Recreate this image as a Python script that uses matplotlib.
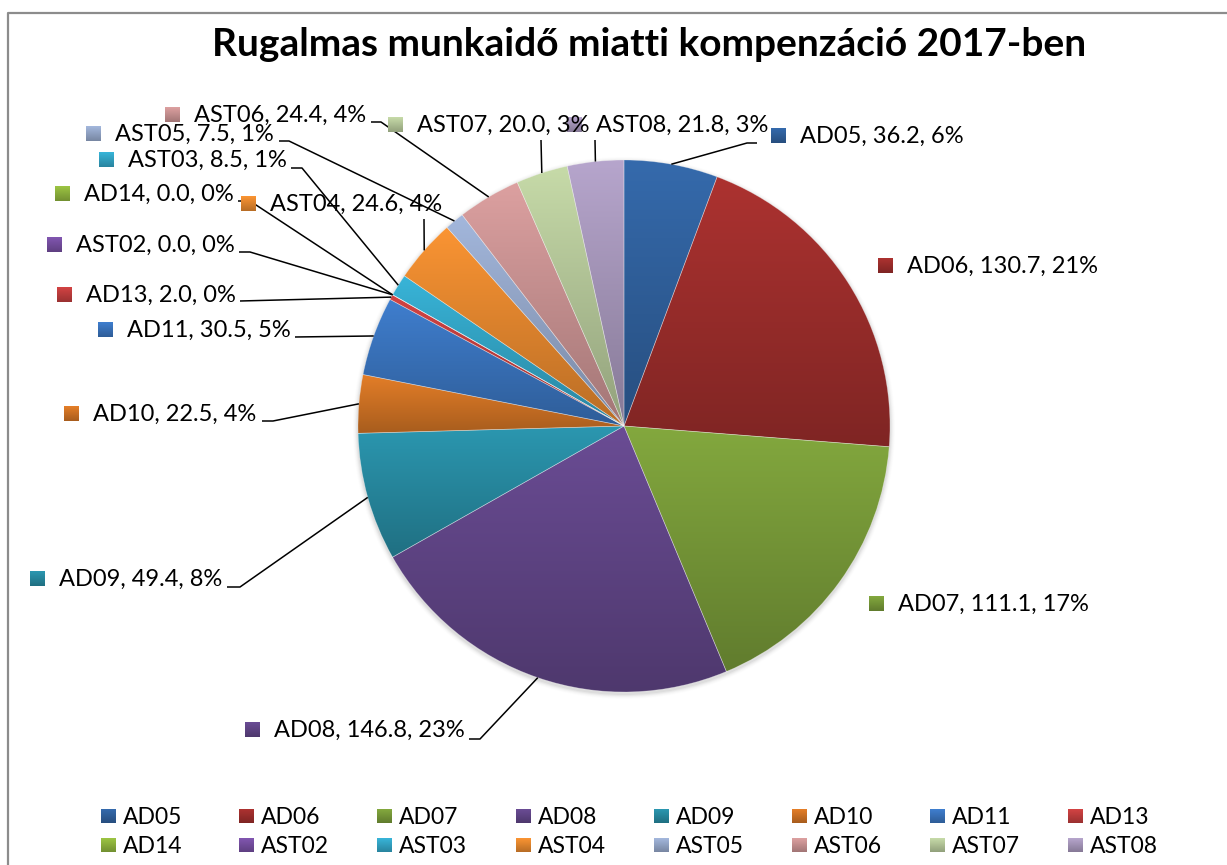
import numpy as np
import matplotlib
matplotlib.use('Agg')
import matplotlib.pyplot as plt
from matplotlib.patches import Circle
from matplotlib.colors import to_rgb

# ---------------- data ----------------
title = 'Rugalmas munkaidő miatti kompenzáció 2017-ben'
categories = ['AD05', 'AD06', 'AD07', 'AD08', 'AD09', 'AD10', 'AD11', 'AD13',
              'AD14', 'AST02', 'AST03', 'AST04', 'AST05', 'AST06', 'AST07', 'AST08']
values = [36.2, 130.7, 111.1, 146.8, 49.4, 22.5, 30.5, 2.0,
          0.0, 0.0, 8.5, 24.6, 7.5, 24.4, 20.0, 21.8]
colors_top = ['#356AAC', '#AC3230', '#83A83E', '#6A4C94', '#2B97B0', '#E47E28',
              '#3F7ECE', '#D24343', '#9CC443', '#8156B0', '#38B4D8', '#FA9433',
              '#A3B7DC', '#DCA0A0', '#C6DAA8', '#B6A5CC']

# ---------------- layout (pixel positions, y from top) ----------------
W, H = 1227, 865
CX, CY, R = 624, 426, 266
FONT = 'Lato'
# label: marker-left x, text baseline y
label_pos = {
    'AD05': (771, 143), 'AD06': (878, 273), 'AD07': (869, 611), 'AD08': (245, 737),
    'AD09': (30, 586), 'AD10': (64, 421), 'AD11': (98, 337), 'AD13': (57, 302),
    'AD14': (55, 201), 'AST02': (47, 252), 'AST03': (99, 167), 'AST04': (241, 211),
    'AST05': (86, 141), 'AST06': (165, 122), 'AST07': (388, 132), 'AST08': (567, 132),
}
# leader line elbow points (from label side), ends at wedge rim
leader_pts = {
    'AD05': [(757, 143), (747, 143)], 'AD06': None, 'AD07': None,
    'AD08': [(469, 739), (480, 739)], 'AD09': [(227, 587), (240, 587)],
    'AD10': [(262, 421), (273, 421)], 'AD11': [(295, 337)], 'AD13': [(240, 301)],
    'AD14': [(238, 201), (250, 201)], 'AST02': [(239, 252), (250, 252)],
    'AST03': [(291, 168), (302, 168)], 'AST04': [(424, 219)],
    'AST05': [(279, 141), (289, 141)], 'AST06': [(371, 122), (381, 122)],
    'AST07': [(541, 140)], 'AST08': [(595, 140)],
}

fig = plt.figure(figsize=(W / 100, H / 100), dpi=100)
ax = fig.add_axes([0, 0, 1, 1])


def Y(y):
    return H - y


def grad(c, n=64, dark=0.74):
    top = np.array(to_rgb(c))
    bot = top * dark
    t = np.linspace(0, 1, n)[:, None]
    return (top * (1 - t) + bot * t)[:, None, :]


def grad_square(x, y_top, w, h, c, z=5):
    ax.imshow(grad(c, 16), extent=(x, x + w, Y(y_top + h), Y(y_top)),
              origin='upper', aspect='auto', zorder=z, interpolation='bilinear')


# soft shadow
for i, a in enumerate([0.10, 0.07, 0.05, 0.03, 0.02]):
    ax.add_patch(Circle((CX, Y(CY) - 2), R + 1 + i, color='#808080',
                        alpha=a, lw=0, zorder=0.5))

wedges, _ = ax.pie(values, startangle=90, counterclock=False,
                   center=(CX, Y(CY)), radius=R, colors=colors_top,
                   wedgeprops=dict(linewidth=0.5, edgecolor=(1, 1, 1, 0.35)),
                   frame=True)
for w, c, v in zip(wedges, colors_top, values):
    w.set_zorder(3)
    if v <= 0:
        continue
    bb = w.get_path().get_extents()
    im = ax.imshow(grad(c), extent=(bb.x0, bb.x1, bb.y0, bb.y1), origin='upper',
                   aspect='auto', zorder=2, interpolation='bilinear')
    im.set_clip_path(w)
    w.set_facecolor('none')

total = sum(values)
cum = np.cumsum([0] + values)
for i, (cat, v) in enumerate(zip(categories, values)):
    pct = round(v / total * 100)
    mx, by = label_pos[cat]
    grad_square(mx, by - 15, 15, 15, colors_top[i])
    ax.text(mx + 29, Y(by), f'{cat}, {v:.1f}, {pct}%', fontsize=17,
            family=FONT, ha='left', va='baseline', color='black', zorder=6)
    pts = leader_pts[cat]
    if pts:
        mid = (cum[i] + cum[i + 1]) / 2 / total
        ang = np.deg2rad(90 - 360 * mid)
        rx, ry = CX + R * np.cos(ang), Y(CY) + R * np.sin(ang)
        xs = [p[0] for p in pts] + [rx]
        ys = [Y(p[1]) for p in pts] + [ry]
        ax.plot(xs, ys, color='black', lw=1.1, zorder=4, solid_capstyle='butt')

# legend (2 rows x 8 columns)
for i, cat in enumerate(categories):
    row, col = divmod(i, 8)
    mx = 101 + 138.2 * col
    cy = 816 + 29 * row
    grad_square(mx, cy - 7, 15, 14, colors_top[i])
    ax.text(mx + 22, Y(cy + 8), cat, fontsize=16.5, family=FONT,
            ha='left', va='baseline', color='black', zorder=6)

ax.text(649, Y(56), title, fontsize=28, fontweight='bold', family=FONT,
        ha='center', va='baseline', color='black')

# chart frame
ax.plot([8, 8, W + 10], [-10, Y(13), Y(13)], color='#8C8C8C', lw=1.6,
        clip_on=False, zorder=7)

ax.set_xlim(0, W)
ax.set_ylim(0, H)
ax.set_aspect('auto')
ax.axis('off')
fig.savefig('out.png', dpi=100)
